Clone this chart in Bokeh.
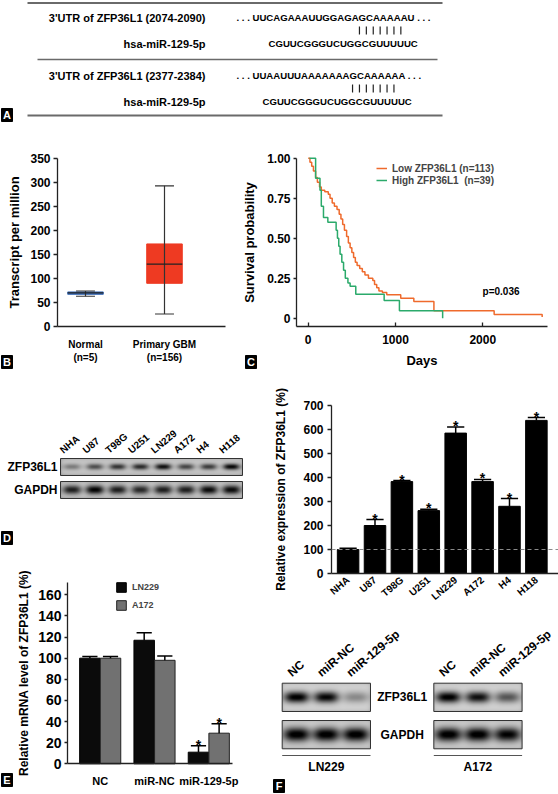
import numpy as np
from bokeh.plotting import figure
from bokeh.layouts import column, row
from bokeh.models import Range1d, FixedTicker, Legend, LegendItem, Span
from bokeh.core.properties import value
from bokeh.embed import file_html
from bokeh.resources import INLINE

FONT = "Liberation Sans"

# ------------------------------------------------------------------ data
utr_labels = ["3'UTR of ZFP36L1 (2074-2090)", "3'UTR of ZFP36L1 (2377-2384)"]
utr_seqs = ["UUCAGAAAUUGGAGAGCAAAAAU", "UUAAUUUAAAAAAAGCAAAAAA"]
mir_name = "hsa-miR-129-5p"
mir_seq = "CGUUCGGGUCUGGCGUUUUUC"
pair_start = [15, 14]
pair_len = 7

box_groups = ["Normal\n(n=5)", "Primary GBM\n(n=156)"]
box_q1 = [67, 90]
box_med = [70, 130]
box_q3 = [72, 172]
box_lo = [63, 26]
box_hi = [74, 293]
box_colors = ["#3B6DB8", "#EE3A22"]

km_labels = ["Low ZFP36L1 (n=113)", "High ZFP36L1  (n=39)"]
km_low_days = [0, 20, 40, 60, 85, 105, 130, 150, 190, 230, 250, 275, 300, 330, 355, 375, 395,
               415, 440, 460, 480, 500, 520, 540, 560, 590, 620, 650, 690, 740, 760, 785, 810,
               850, 900, 1060, 1210, 1440, 2130, 2680]
km_low_surv = [1.0, 0.975, 0.95, 0.92, 0.88, 0.85, 0.82, 0.80, 0.79, 0.775, 0.75, 0.72, 0.70,
               0.68, 0.65, 0.62, 0.585, 0.55, 0.51, 0.47, 0.44, 0.41, 0.38, 0.35, 0.33, 0.31,
               0.29, 0.27, 0.25, 0.235, 0.21, 0.19, 0.17, 0.16, 0.146, 0.125, 0.104, 0.046,
               0.023, 0.008]
km_high_days = [15, 85, 135, 150, 175, 225, 320, 335, 350, 365, 385, 405, 425, 455, 480, 545,
                870, 1045, 1540]
km_high_surv = [1.0, 0.875, 0.80, 0.70, 0.63, 0.60, 0.55, 0.50, 0.45, 0.40, 0.35, 0.30, 0.25,
                0.22, 0.20, 0.15, 0.11, 0.046, 0.0]
p_text = "p=0.036"
p_pos = (1997, 0.167)

cell_lines = ["NHA", "U87", "T98G", "U251", "LN229", "A172", "H4", "H118"]
blot_d_zfp = [0.35, 0.6, 0.75, 0.8, 0.95, 0.65, 0.7, 1.0]
blot_d_gapdh = [0.85, 1.0, 0.85, 0.8, 0.85, 0.85, 0.95, 0.95]
rel_expr = [100, 200, 383, 262, 585, 383, 280, 638]
rel_err = [5, 25, 4, 6, 25, 9, 32, 12]
rel_sig = [False, True, True, True, True, True, True, True]

treatments = ["NC", "miR-NC", "miR-129-5p"]
mrna_groups = ["LN229", "A172"]
mrna_ln229 = [100, 117, 11]
mrna_ln229_err = [1.5, 7, 6]
mrna_a172 = [100, 98, 29]
mrna_a172_err = [1.5, 4, 9]
mrna_sig = [False, False, True]

blot_f_zfp = {"LN229": [1.0, 0.95, 0.3], "A172": [1.0, 0.9, 0.55]}
blot_f_gapdh = {"LN229": [1.0, 1.0, 1.0], "A172": [1.0, 1.0, 0.95]}
blot_rows = ["ZFP36L1", "GAPDH"]

ORANGE = "#EF6A2C"
GREEN = "#2BAA6B"
AXC = "#222222"


# ------------------------------------------------------------------ helpers
class Lin:
    """maps page pixels to data values: value d0 sits at pixel p0, k pixels per unit"""
    def __init__(self, d0, p0, k, flip=False):
        self.d0, self.p0, self.k, self.s = d0, p0, k, (-1 if flip else 1)

    def __call__(self, px):
        return self.d0 + self.s * (px - self.p0) / self.k


def make_fig(box, X, Y, ml=0, mr=0, mt=0, mb=0, axes=True, xr=None, yr=None):
    left, top, right, bottom = box
    kw = {}
    if not axes:
        kw = dict(x_axis_type=None, y_axis_type=None)
    if xr is None:
        xr = Range1d(X(left), X(right))
    if yr is None:
        yr = Range1d(Y(bottom), Y(top))
    p = figure(width=right - left, height=bottom - top, x_range=xr, y_range=yr,
               output_backend="svg", toolbar_location=None, min_border_left=ml,
               min_border_right=mr, min_border_top=mt, min_border_bottom=mb,
               frame_align=False, **kw)
    p.outline_line_color = None
    p.grid.visible = False
    p.background_fill_color = "white"
    p.border_fill_color = "white"
    return p


def style_axis(ax, size, tick_out, tick_in, standoff, lab_size="13px", lab_standoff=5):
    ax.axis_line_color = AXC
    ax.axis_line_width = 1.3
    ax.major_tick_line_color = AXC
    ax.major_tick_line_width = 1.3
    ax.major_tick_out = tick_out
    ax.major_tick_in = tick_in
    ax.minor_tick_line_color = None
    ax.major_label_text_font = FONT
    ax.major_label_text_font_style = "bold"
    ax.major_label_text_font_size = size
    ax.major_label_text_color = "black"
    ax.major_label_standoff = standoff
    ax.axis_label_text_font = FONT
    ax.axis_label_text_font_style = "bold"
    ax.axis_label_text_font_size = lab_size
    ax.axis_label_text_color = "black"
    ax.axis_label_standoff = lab_standoff


def letter_glyph(p, X, Y, t, left, top, w=11, h=13):
    p.quad(left=[X(left)], right=[X(left + w)], top=[Y(top)], bottom=[Y(top + h)],
           fill_color="black", line_color="black")
    p.text(x=[X(left + w / 2)], y=[Y(top + h / 2)], text=[t], text_font=value(FONT),
           text_font_style="bold", text_font_size="11px", text_color="white",
           text_align="center", text_baseline="middle")


def txt(p, x, y, s, size, align="left", baseline="middle", angle=0, color="black"):
    p.text(x=x, y=y, text=s, text_font=value(FONT), text_font_style="bold",
           text_font_size=size, text_align=align, text_baseline=baseline, angle=angle,
           text_color=color)


def blot_rgba(intens, w, h, band_w, band_h, bg, dark, scale=2):
    W = int(round(w * scale))
    H = int(round(h * scale))
    xs = (np.arange(W) + 0.5) / scale
    ys = (np.arange(H) + 0.5) / scale
    lane = w / len(intens)
    img = np.full((H, W), float(bg))
    img -= np.exp(-np.minimum(ys, h - ys) / 1.5)[:, None] * 30
    img -= np.exp(-np.minimum(xs, w - xs) / 1.5)[None, :] * 30
    gy = np.exp(-((ys - h / 2) / (band_h / 2)) ** 2)
    img -= 12 * gy[:, None]
    for i, v in enumerate(intens):
        cx = (i + 0.5) * lane
        gx = np.exp(-np.abs((xs - cx) / (band_w / 2)) ** 3)
        img -= (bg - dark) * v * np.outer(gy, gx)
    img = np.clip(img, 0, 255).astype(np.uint32)
    rgba = (np.uint32(255) << 24) | (img << 16) | (img << 8) | img
    return np.ascontiguousarray(rgba[::-1]).astype(np.uint32)


def draw_blot(p, intens, x0, top, w, h, band_w, band_h, bg, dark):
    p.image_rgba(image=[blot_rgba(intens, w, h, band_w, band_h, bg, dark)],
                 x=x0, y=-(top + h), dw=w, dh=h)
    p.quad(left=[x0], right=[x0 + w], top=[-top], bottom=[-(top + h)], fill_color=None,
           line_color="#333333", line_width=1)


PX = Lin(0, 0, 1)
PY = Lin(0, 0, 1, flip=True)

# ------------------------------------------------------------------ panel A
pA = make_fig((0, 0, 558, 128), PX, PY, axes=False)
rule_y = [2.5, 59, 115]
rule_x0 = [27, 37, 27]
rule_x1 = [442, 437, 442]
pA.segment(x0=rule_x0, y0=[-v for v in rule_y], x1=rule_x1, y1=[-v for v in rule_y],
           line_color="#6a6a6a", line_width=[2, 1.5, 2])
blk_y = [17, 75]
mir_x = [268, 262]
seq_x = 236
cw = 6.9
prefix = 16
for k in range(2):
    y = blk_y[k]
    txt(pA, [205], [-y], [utr_labels[k]], "11px", align="right")
    txt(pA, [seq_x], [-y], [". . . " + utr_seqs[k] + " . . ."], "9.6px")
    bx = [seq_x + prefix + (pair_start[k] + i + 0.5) * cw for i in range(pair_len)]
    pA.segment(x0=bx, y0=[-(y + 9)] * pair_len, x1=bx, y1=[-(y + 17)] * pair_len,
               line_color="#222222", line_width=1.2)
    txt(pA, [205], [-(y + 26)], [mir_name], "11px", align="right")
    txt(pA, [mir_x[k]], [-(y + 26)], [mir_seq], "9.6px")
letter_glyph(pA, PX, PY, "A", 1, 108)

# ------------------------------------------------------------------ panel B
BX = Lin(1, 85, 79)
BY = Lin(0, 326, 0.48, flip=True)
pB = make_fig((0, 128, 243, 372), BX, BY)
bx_pos = [1, 2]
pB.vbar(x=bx_pos, bottom=box_q1, top=box_q3, width=0.45, fill_color=box_colors,
        line_color=box_colors)
pB.segment(x0=bx_pos, y0=box_lo, x1=bx_pos, y1=box_hi, line_color="#333333", line_width=1.2)
pB.segment(x0=[x - 0.12 for x in bx_pos], y0=box_lo, x1=[x + 0.12 for x in bx_pos], y1=box_lo,
           line_color="#333333", line_width=1.2)
pB.segment(x0=[x - 0.12 for x in bx_pos], y0=box_hi, x1=[x + 0.12 for x in bx_pos], y1=box_hi,
           line_color="#333333", line_width=1.2)
pB.segment(x0=[x - 0.225 for x in bx_pos], y0=box_med, x1=[x + 0.225 for x in bx_pos],
           y1=box_med, line_color="#222222", line_width=1.2)
pB.yaxis.ticker = FixedTicker(ticks=list(range(0, 351, 50)))
pB.yaxis.fixed_location = BX(57)
pB.yaxis.bounds = (0, 350)
pB.xaxis.ticker = FixedTicker(ticks=bx_pos)
pB.xaxis.fixed_location = 0
pB.xaxis.bounds = (BX(57), BX(225))
pB.xaxis.major_label_overrides = {x: g for x, g in zip(bx_pos, box_groups)}
style_axis(pB.yaxis[0], "12px", 4, 0, 3, "13px", 5)
style_axis(pB.xaxis[0], "10px", 0, 0, 12)
pB.yaxis.axis_label = "Transcript per million"
letter_glyph(pB, BX, BY, "B", 1, 355)

# ------------------------------------------------------------------ panel C
CX = Lin(0, 307.7, 0.0873)
CY = Lin(0, 317.7, 160, flip=True)
pC = make_fig((243, 128, 558, 372), CX, CY)
r_low = pC.step(km_low_days, km_low_surv, mode="after", line_color=ORANGE, line_width=1.5)
r_high = pC.step(km_high_days, km_high_surv, mode="after", line_color=GREEN, line_width=1.5)
pC.yaxis.ticker = FixedTicker(ticks=[0, 0.25, 0.5, 0.75, 1])
pC.yaxis.major_label_overrides = {0: "0", 0.25: "0.25", 0.5: "0.50", 0.75: "0.75", 1: "1.00"}
pC.yaxis.fixed_location = CX(296)
pC.yaxis.bounds = (CY(325.7), 1.0)
pC.xaxis.ticker = FixedTicker(ticks=[0, 1000, 2000])
pC.xaxis.fixed_location = CY(325.7)
pC.xaxis.bounds = (CX(296), CX(547))
style_axis(pC.yaxis[0], "12px", 3, 0, 3, "13px", 7)
style_axis(pC.xaxis[0], "12px", 0, 4, 9, "13px", 5)
pC.yaxis.axis_label = "Survival probability"
pC.xaxis.axis_label = "Days"
legC = Legend(items=[LegendItem(label=km_labels[0], renderers=[r_low]),
                     LegendItem(label=km_labels[1], renderers=[r_high])],
              location=(376 - 243, 372 - 186), glyph_width=11, glyph_height=12,
              label_height=12, label_standoff=5, spacing=0, padding=0, margin=0,
              border_line_color=None, background_fill_alpha=0, label_text_font=FONT,
              label_text_font_style="bold", label_text_font_size="10px")
pC.add_layout(legC)
txt(pC, [p_pos[0]], [p_pos[1]], [p_text], "10px")
letter_glyph(pC, CX, CY, "C", 245, 355)

# ------------------------------------------------------------------ panel D (blot)
pD = make_fig((0, 372, 243, 545), PX, PY, axes=False)
d_x0, d_w = 60, 182
d_rows_top = [458, 481]
d_h = 17
draw_blot(pD, blot_d_zfp, d_x0, d_rows_top[0], d_w, d_h, 16, 6, 200, 15)
draw_blot(pD, blot_d_gapdh, d_x0, d_rows_top[1], d_w, d_h, 18, 9, 205, 10)
d_lanes = [d_x0 + (i + 0.5) * d_w / len(cell_lines) for i in range(len(cell_lines))]
txt(pD, [x - 7 for x in d_lanes], [-455] * len(cell_lines), cell_lines, "10px",
    baseline="bottom", angle=0.7)
txt(pD, [57, 57], [-(t + d_h / 2) for t in d_rows_top], blot_rows, "12px", align="right")
letter_glyph(pD, PX, PY, "D", 1, 531)

# ------------------------------------------------------------------ panel D (bars)
pDb = make_fig((243, 372, 558, 615), None, None, ml=88, mr=0, mt=33, mb=42,
               xr=Range1d(0.383, 8.822), yr=Range1d(0, 700))
xs = list(range(1, len(cell_lines) + 1))
pDb.add_layout(Span(location=100, dimension="width", line_color="#8a8a8a", line_width=1,
                    line_dash="4 3"))
pDb.vbar(x=xs, top=rel_expr, width=0.8, fill_color="black", line_color="black")
tops = [v + e for v, e in zip(rel_expr, rel_err)]
pDb.segment(x0=xs, y0=rel_expr, x1=xs, y1=tops, line_color="black", line_width=1.5)
pDb.segment(x0=[x - 0.32 for x in xs], y0=tops, x1=[x + 0.32 for x in xs], y1=tops,
            line_color="black", line_width=1.5)
sx = [x for x, s in zip(xs, rel_sig) if s]
sy = [t for t, s in zip(tops, rel_sig) if s]
pDb.text(x=sx, y=sy, text=["*"] * len(sx), text_font=value(FONT), text_font_style="bold",
         text_font_size="14px", text_align="center", text_baseline="alphabetic", y_offset=-1)
pDb.yaxis.ticker = FixedTicker(ticks=list(range(0, 701, 100)))
pDb.xaxis.ticker = FixedTicker(ticks=xs)
pDb.xaxis.major_label_overrides = {x: c for x, c in zip(xs, cell_lines)}
pDb.xaxis.major_label_orientation = 0.7
style_axis(pDb.yaxis[0], "12px", 4, 0, 4, "12px", 12)
style_axis(pDb.xaxis[0], "10px", 0, 0, 5)
pDb.yaxis.axis_label = "Relative expression of ZFP36L1 (%)"

# ------------------------------------------------------------------ panel E
EX = Lin(1, 99.7, 54.3)
EY = Lin(0, 763.3, 1.056, flip=True)
pE = make_fig((0, 545, 243, 794), EX, EY)
gx = np.arange(1, len(treatments) + 1)
x_ln = list(gx - 0.19)
x_a = list(gx + 0.19)
r_ln = pE.vbar(x=x_ln, top=mrna_ln229, width=0.377, fill_color="#0b0b0b", line_color="black")
r_a = pE.vbar(x=x_a, top=mrna_a172, width=0.377, fill_color="#717171", line_color="#222222")
for xx, vals, errs in [(x_ln, mrna_ln229, mrna_ln229_err), (x_a, mrna_a172, mrna_a172_err)]:
    tp = [v + e for v, e in zip(vals, errs)]
    pE.segment(x0=xx, y0=vals, x1=xx, y1=tp, line_color="black", line_width=1.5)
    pE.segment(x0=[x - 0.14 for x in xx], y0=tp, x1=[x + 0.14 for x in xx], y1=tp,
               line_color="black", line_width=1.5)
    ax_ = [x for x, s in zip(xx, mrna_sig) if s]
    ay_ = [t for t, s in zip(tp, mrna_sig) if s]
    pE.text(x=ax_, y=ay_, text=["*"] * len(ax_), text_font=value(FONT),
            text_font_style="bold", text_font_size="14px", text_align="center",
            text_baseline="alphabetic", y_offset=-1)
pE.yaxis.ticker = FixedTicker(ticks=list(range(0, 161, 20)))
pE.yaxis.fixed_location = EX(67)
pE.yaxis.bounds = (0, EY(581.7))
pE.xaxis.ticker = FixedTicker(ticks=list(gx))
pE.xaxis.fixed_location = 0
pE.xaxis.bounds = (EX(67), EX(232))
pE.xaxis.major_label_overrides = {int(x): t for x, t in zip(gx, treatments)}
style_axis(pE.yaxis[0], "14px", 3, 0, 3, "12px", 4)
style_axis(pE.xaxis[0], "11px", 0, 0, 11)
pE.yaxis.axis_label = "Relative mRNA level of ZFP36L1 (%)"
legE = Legend(items=[LegendItem(label=mrna_groups[0], renderers=[r_ln]),
                     LegendItem(label=mrna_groups[1], renderers=[r_a])],
              location=(115, 794 - 611), glyph_width=12, glyph_height=12, label_height=12,
              label_standoff=5, spacing=6, padding=0, margin=0, border_line_color=None,
              background_fill_alpha=0, label_text_font=FONT, label_text_font_style="bold",
              label_text_font_size="9px")
pE.add_layout(legE)
letter_glyph(pE, EX, EY, "E", 1, 773)

# ------------------------------------------------------------------ panel F
pF = make_fig((243, 615, 558, 794), PX, PY, axes=False)
f_x0 = {"LN229": 281.7, "A172": 433.3}
f_w = 88.3
f_rows_top = [682.7, 720]
f_h = 28.3
for cl in ["LN229", "A172"]:
    draw_blot(pF, blot_f_zfp[cl], f_x0[cl], f_rows_top[0], f_w, f_h, 24, 11, 212, 5)
    draw_blot(pF, blot_f_gapdh[cl], f_x0[cl], f_rows_top[1], f_w, f_h, 26, 14, 212, 0)
    lanes = [f_x0[cl] + (i + 0.5) * f_w / len(treatments) for i in range(len(treatments))]
    txt(pF, [x - 3 for x in lanes], [-679] * len(treatments), treatments, "12px",
        baseline="bottom", angle=0.7)
    pF.segment(x0=[f_x0[cl]], y0=[-755], x1=[f_x0[cl] + f_w], y1=[-755],
               line_color="#555555", line_width=1.2)
    txt(pF, [f_x0[cl] + f_w / 2], [-766], [cl], "12px", align="center")
mid = (f_x0["LN229"] + f_w + f_x0["A172"]) / 2
txt(pF, [mid, mid], [-(t + f_h / 2) for t in f_rows_top], blot_rows, "12px", align="center")
letter_glyph(pF, PX, PY, "F", 273, 779)

# ------------------------------------------------------------------ layout
layout = column(pA, row(column(pB, pD, pE), column(pC, pDb, pF)))
open("out.html", "w").write(file_html(layout, INLINE))
